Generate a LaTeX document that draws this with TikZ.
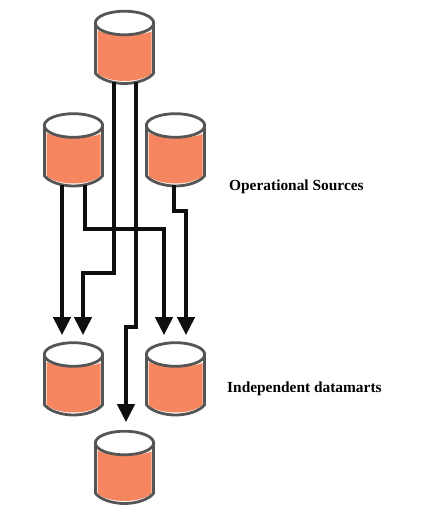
\documentclass[tikz,border=0pt]{standalone}
\usepackage{fontspec}
\setmainfont{Liberation Serif}
\usetikzlibrary{arrows.meta}
\definecolor{dbfill}{RGB}{245,134,96}
\definecolor{dbline}{RGB}{85,85,85}
\definecolor{wire}{RGB}{15,15,15}
\tikzset{
  db/.style={minimum width=61pt,minimum height=75pt,inner sep=0pt,outer sep=0pt,
    path picture={
      \begin{scope}[shift={(path picture bounding box.center)}]
        % orange body
        \fill[dbfill] (-27,-17) .. controls (-15,-11) and (15,-11) .. (27,-16)
          -- (27,26) .. controls (15,36) and (-15,36) .. (-27,26) -- cycle;
        % outline
        \draw[dbline,line width=2.8pt,line join=round]
          (-29,-24.5) -- (-29,26) .. controls (-24,32) and (-12,36) .. (0,36)
          .. controls (12,36) and (24,32) .. (29,26) -- (29,-24.5);
        \draw[dbline,line width=2.8pt,fill=white]
          (0,-24.5) ellipse [x radius=29.2pt,y radius=11.8pt];
      \end{scope}
    }},
  wirepath/.style={draw=wire,line width=3.4pt,line join=miter},
  wirearrow/.style={wirepath,-{Triangle[length=18pt,width=17.5pt]}},
  caption/.style={font=\fontsize{15.4pt}{17pt}\selectfont\bfseries,anchor=west,inner sep=0pt,text=black}
}
\begin{document}
\begin{tikzpicture}[x=1pt,y=-1pt]
\useasboundingbox[fill=white] (0,0) rectangle (428,513);
\node[db] (top) at (124.5,47.5) {};
\node[db] (srcl) at (73.5,150) {};
\node[db] (srcr) at (175.5,150) {};
\node[db] (martl) at (73.5,379) {};
\node[db] (martr) at (175.5,379) {};
\node[db] (bot) at (124.5,467.5) {};
\coordinate (tipa) at ([xshift=-11.5pt,yshift=6.5pt]martl.north);
\coordinate (tipb) at ([xshift=9.5pt,yshift=6.5pt]martl.north);
\coordinate (tipc) at ([xshift=-11.5pt,yshift=6.5pt]martr.north);
\coordinate (tipd) at ([xshift=10.5pt,yshift=6.5pt]martr.north);
\coordinate (tipe) at ([xshift=1.5pt,yshift=8pt]bot.north);
\coordinate (busc) at (0,229);
\coordinate (busd) at (0,211);
\coordinate (busb) at (0,273);
\coordinate (buse) at (0,327);
\draw[wirearrow] ([xshift=-11.5pt,yshift=3pt]srcl.south) -- (tipa);
\draw[wirearrow] ([xshift=11.5pt,yshift=3pt]srcl.south) |- (busc -| tipc) -- (tipc);
\draw[wirearrow] ([xshift=-1.5pt,yshift=3pt]srcr.south) |- (busd -| tipd) -- (tipd);
\draw[wirearrow] ([xshift=-10.5pt,yshift=3pt]top.south) |- (busb -| tipb) -- (tipb);
\draw[wirearrow] ([xshift=11.5pt,yshift=3pt]top.south) |- (buse -| tipe) -- (tipe);
\node[caption] (ops) at (229,187) {Operational Sources};
\node[caption] (ind) at (227,389) {Independent datamarts};
\end{tikzpicture}
\end{document}
